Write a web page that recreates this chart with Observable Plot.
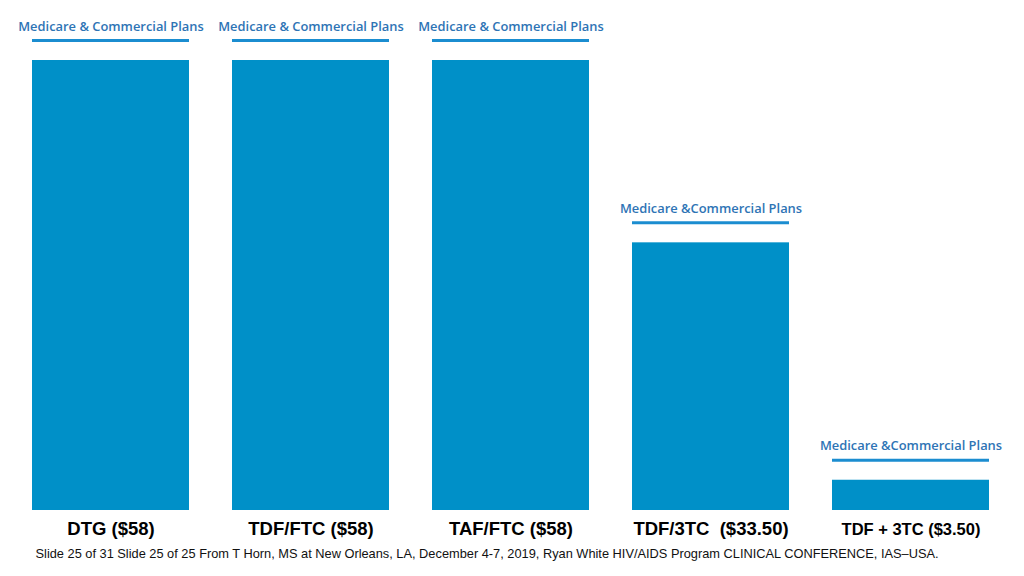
<!DOCTYPE html>
<html>
<head>
<meta charset="utf-8">
<script src="https://cdn.jsdelivr.net/npm/d3@7"></script>
<script src="https://cdn.jsdelivr.net/npm/@observablehq/plot@0.6"></script>
<style>
  html, body { margin: 0; padding: 0; background: #fff; }
  #chart svg { display: block; }
</style>
</head>
<body>
<div id="chart"></div>
<script>
const drugs = ["DTG ($58)", "TDF/FTC ($58)", "TAF/FTC ($58)", "TDF/3TC  ($33.50)", "TDF + 3TC ($3.50)"];
const prices = [58, 58, 58, 34.5, 3.9];
const plans = ["Medicare & Commercial Plans", "Medicare & Commercial Plans", "Medicare & Commercial Plans", "Medicare &Commercial Plans", "Medicare &Commercial Plans"];
const labelSizes = [18.5, 18.5, 18.5, 18.5, 16.5];
const caption = "Slide 25 of 31 Slide 25 of 25 From T Horn, MS at New Orleans, LA, December 4-7, 2019, Ryan White HIV/AIDS Program CLINICAL CONFERENCE, IAS\u2013USA.";

const data = drugs.map((d, i) => ({drug: d, price: prices[i], plan: plans[i], size: labelSizes[i]}));

const chart = Plot.plot({
  width: 1024,
  height: 576,
  marginLeft: 31,
  marginRight: 34,
  marginTop: 60,
  marginBottom: 66,
  x: {domain: drugs, paddingInner: 0.217, paddingOuter: 0, axis: null},
  y: {domain: [0, 58], axis: null},
  style: {background: "#fff"},
  marks: [
    Plot.barY(data, {x: "drug", y: "price", fill: "#0090C8"}),
    Plot.tickY(data, {x: "drug", y: "price", dy: -20, stroke: "#1B8DD0", strokeWidth: 3}),
    Plot.text(data, {x: "drug", y: "price", text: "plan", dy: -34, fill: "#2E74B5",
      fontFamily: "Open Sans", fontWeight: 600, fontSize: 12.9}),
    Plot.text(data, {x: "drug", text: "drug", frameAnchor: "bottom", dy: 19, lineAnchor: "middle",
      fontFamily: "Liberation Sans, Arial, sans-serif", fontWeight: "bold", fontSize: "size", fill: "#000"}),
    Plot.text([caption], {text: d => d, frameAnchor: "bottom-left", dx: 4, dy: 43, lineAnchor: "middle",
      textAnchor: "start", fontFamily: "Liberation Sans, Arial, sans-serif", fontSize: 12.8, fill: "#111"})
  ]
});
document.getElementById("chart").append(chart);
</script>
</body>
</html>
